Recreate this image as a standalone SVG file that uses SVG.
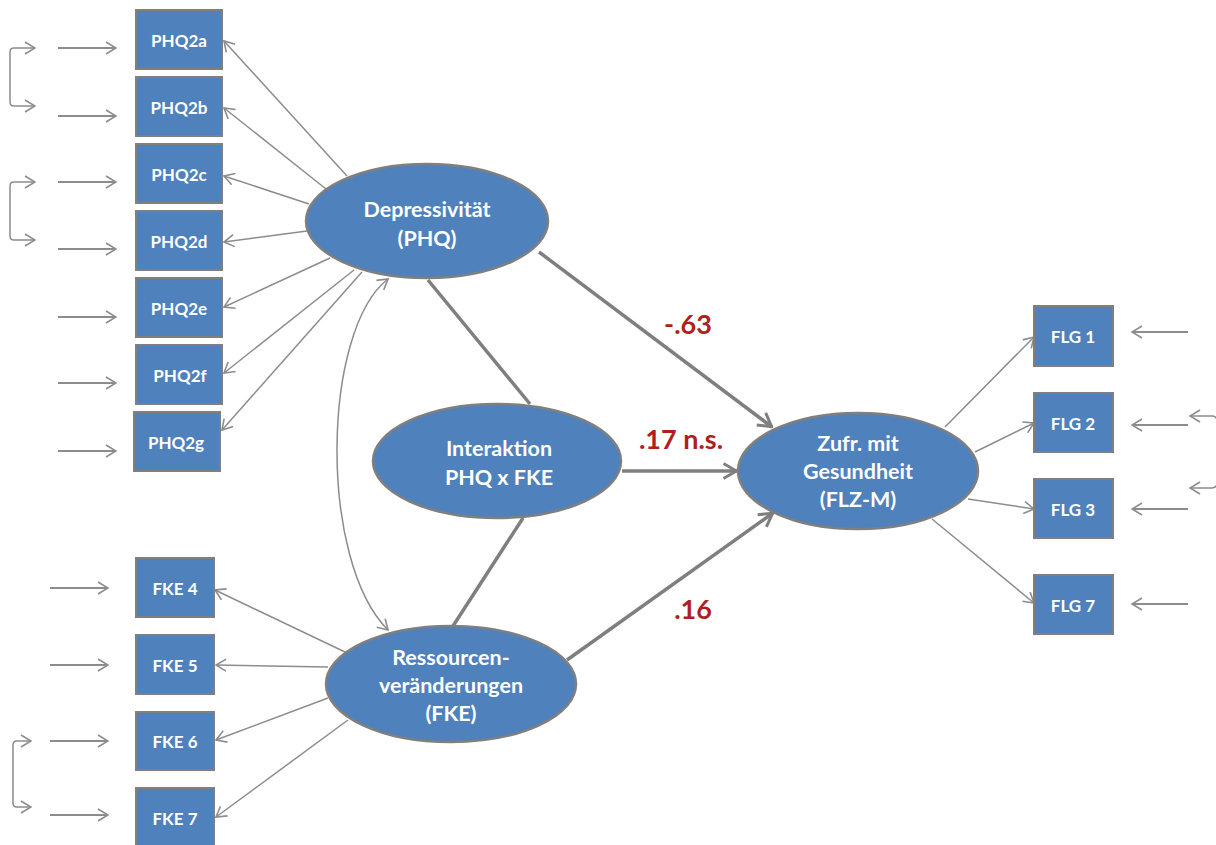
<svg xmlns="http://www.w3.org/2000/svg" width="1216" height="845" viewBox="0 0 1216 845">
  <defs>
    <style>
      .box { fill: #4F81BD; stroke: #7F7F7F; stroke-width: 2; }
      .ell { fill: #4F81BD; stroke: #7F7F7F; stroke-width: 2.5; }
      .lbl { fill: #FFFFFF; font-family: Lato, "Liberation Sans", sans-serif; font-weight: bold; font-size: 17px; text-anchor: middle; dominant-baseline: central; }
      .big { font-size: 21.5px; }
      .coef { fill: #B01F1F; font-family: Lato, "Liberation Sans", sans-serif; font-weight: bold; font-size: 27px; text-anchor: middle; dominant-baseline: central; }
      .thick { fill: none; stroke: #7F7F7F; stroke-width: 3.5; }
      .err { fill: none; stroke: #8C8C8C; stroke-width: 1.8; marker-end: url(#ah); }
      .load { fill: none; stroke: #8C8C8C; stroke-width: 1.5; marker-end: url(#ah); }
      .cov { fill: none; stroke: #8C8C8C; stroke-width: 1.5; marker-start: url(#ah); marker-end: url(#ah); }
      .path { fill: none; stroke: #7F7F7F; stroke-width: 3.5; marker-end: url(#ahb); }
    </style>
    <marker id="ah" viewBox="0 0 12 14" refX="11" refY="7" markerWidth="12" markerHeight="14" markerUnits="userSpaceOnUse" orient="auto-start-reverse">
      <path d="M1,1 L11,7 L1,13" fill="none" stroke="#8C8C8C" stroke-width="1.6"/>
    </marker>
    <marker id="ahb" viewBox="0 0 16 18" refX="15" refY="9" markerWidth="16" markerHeight="18" markerUnits="userSpaceOnUse" orient="auto">
      <path d="M1.5,1.5 L14.5,9 L1.5,16.5" fill="none" stroke="#7F7F7F" stroke-width="3"/>
    </marker>
  </defs>

  <rect width="1216" height="845" fill="#FFFFFF"/>

  <!-- connectors -->
  <g id="connectors">
    <!-- error terms, PHQ indicators -->
    <line class="err" x1="58" y1="48" x2="116" y2="48"/>
    <line class="err" x1="58" y1="116" x2="116" y2="116"/>
    <line class="err" x1="58" y1="182" x2="116" y2="182"/>
    <line class="err" x1="58" y1="249" x2="116" y2="249"/>
    <line class="err" x1="58" y1="317" x2="116" y2="317"/>
    <line class="err" x1="58" y1="383" x2="116" y2="383"/>
    <line class="err" x1="58" y1="451" x2="116" y2="451"/>
    <path class="cov" d="M35,48 H14 Q10,48 10,52 V102 Q10,106 14,106 H35"/>
    <path class="cov" d="M35,182 H14 Q10,182 10,186 V236 Q10,240 14,240 H35"/>

    <!-- error terms, FKE indicators -->
    <line class="err" x1="50" y1="588" x2="108" y2="588"/>
    <line class="err" x1="50" y1="665" x2="108" y2="665"/>
    <line class="err" x1="50" y1="741" x2="108" y2="741"/>
    <line class="err" x1="50" y1="815" x2="108" y2="815"/>
    <path class="cov" d="M31,741 H17 Q13,741 13,745 V803 Q13,807 17,807 H31"/>

    <!-- error terms, FLG indicators -->
    <line class="err" x1="1188" y1="332" x2="1132" y2="332"/>
    <line class="err" x1="1188" y1="425" x2="1132" y2="425"/>
    <line class="err" x1="1188" y1="509" x2="1132" y2="509"/>
    <line class="err" x1="1188" y1="604" x2="1132" y2="604"/>
    <path class="cov" d="M1190,416 H1212 Q1217,416 1217,421 V483 Q1217,488 1212,488 H1190"/>

    <!-- loadings Depressivität -->
    <line class="load" x1="347" y1="176" x2="224" y2="41"/>
    <line class="load" x1="326" y1="189" x2="224" y2="108"/>
    <line class="load" x1="309" y1="204" x2="224" y2="176"/>
    <line class="load" x1="307" y1="231" x2="224" y2="242"/>
    <line class="load" x1="330" y1="258" x2="224" y2="307"/>
    <line class="load" x1="354" y1="270" x2="224" y2="373"/>
    <line class="load" x1="362" y1="272" x2="222" y2="430"/>

    <!-- loadings Ressourcenveränderungen -->
    <line class="load" x1="345" y1="652" x2="215" y2="590"/>
    <line class="load" x1="328" y1="667" x2="216" y2="665"/>
    <line class="load" x1="328" y1="698" x2="216" y2="740"/>
    <line class="load" x1="348" y1="720" x2="216" y2="817"/>

    <!-- loadings Zufriedenheit mit Gesundheit -->
    <line class="load" x1="945" y1="427" x2="1034" y2="337"/>
    <line class="load" x1="975" y1="452" x2="1034" y2="423"/>
    <line class="load" x1="968" y1="499" x2="1034" y2="509"/>
    <line class="load" x1="932" y1="519" x2="1034" y2="603"/>

    <!-- covariance Depressivität / Ressourcen -->
    <path class="cov" d="M388,279 C322,330 318,560 388,630"/>

    <!-- interaction term links -->
    <line class="thick" x1="428" y1="280" x2="530" y2="404"/>
    <line class="thick" x1="523" y1="518" x2="453" y2="626"/>

    <!-- structural paths -->
    <line class="path" x1="539" y1="252" x2="772" y2="427"/>
    <line class="path" x1="622" y1="471" x2="737" y2="471"/>
    <line class="path" x1="567" y1="660" x2="773" y2="513"/>
  </g>

  <!-- path coefficients -->
  <g id="coefficients">
    <text class="coef" x="688" y="323">-.63</text>
    <text class="coef" x="681" y="438">.17 n.s.</text>
    <text class="coef" x="693" y="608">.16</text>
  </g>

  <!-- PHQ indicators -->
  <g id="PHQ2a"><rect class="box" x="136" y="10" width="86" height="59"/><text class="lbl" x="179" y="40">PHQ2a</text></g>
  <g id="PHQ2b"><rect class="box" x="136" y="77" width="86" height="59"/><text class="lbl" x="179" y="107">PHQ2b</text></g>
  <g id="PHQ2c"><rect class="box" x="136" y="144" width="86" height="59"/><text class="lbl" x="179" y="174">PHQ2c</text></g>
  <g id="PHQ2d"><rect class="box" x="136" y="211" width="86" height="59"/><text class="lbl" x="179" y="241">PHQ2d</text></g>
  <g id="PHQ2e"><rect class="box" x="136" y="278" width="86" height="59"/><text class="lbl" x="179" y="308">PHQ2e</text></g>
  <g id="PHQ2f"><rect class="box" x="136" y="345" width="86" height="59"/><text class="lbl" x="180" y="375">PHQ2f</text></g>
  <g id="PHQ2g"><rect class="box" x="134" y="412" width="86" height="59"/><text class="lbl" x="176" y="442">PHQ2g</text></g>

  <!-- FKE indicators -->
  <g id="FKE4"><rect class="box" x="136" y="558" width="78" height="59"/><text class="lbl" x="175" y="588">FKE 4</text></g>
  <g id="FKE5"><rect class="box" x="136" y="635" width="78" height="59"/><text class="lbl" x="175" y="665">FKE 5</text></g>
  <g id="FKE6"><rect class="box" x="136" y="712" width="78" height="58"/><text class="lbl" x="175" y="741">FKE 6</text></g>
  <g id="FKE7"><rect class="box" x="136" y="788" width="78" height="60"/><text class="lbl" x="175" y="818">FKE 7</text></g>

  <!-- FLG indicators -->
  <g id="FLG1"><rect class="box" x="1034" y="306" width="79" height="60"/><text class="lbl" x="1073" y="336">FLG 1</text></g>
  <g id="FLG2"><rect class="box" x="1034" y="393" width="79" height="59"/><text class="lbl" x="1073" y="423">FLG 2</text></g>
  <g id="FLG3"><rect class="box" x="1034" y="479" width="79" height="59"/><text class="lbl" x="1073" y="509">FLG 3</text></g>
  <g id="FLG7"><rect class="box" x="1034" y="575" width="79" height="59"/><text class="lbl" x="1073" y="605">FLG 7</text></g>

  <!-- latent variables -->
  <g id="PHQ">
    <ellipse class="ell" cx="427" cy="221" rx="121" ry="57"/>
    <text class="lbl big" x="427" y="209">Depressivität</text>
    <text class="lbl big" x="427" y="238">(PHQ)</text>
  </g>
  <g id="Interaktion">
    <ellipse class="ell" cx="497" cy="461" rx="124" ry="57"/>
    <text class="lbl big" x="499" y="448">Interaktion</text>
    <text class="lbl big" x="499" y="477">PHQ x FKE</text>
  </g>
  <g id="FKE">
    <ellipse class="ell" cx="451" cy="684" rx="125" ry="58"/>
    <text class="lbl big" x="451" y="657">Ressourcen-</text>
    <text class="lbl big" x="451" y="685">veränderungen</text>
    <text class="lbl big" x="451" y="713">(FKE)</text>
  </g>
  <g id="FLZM">
    <ellipse class="ell" cx="858" cy="471" rx="120" ry="58"/>
    <text class="lbl big" x="858" y="443">Zufr. mit</text>
    <text class="lbl big" x="858" y="471">Gesundheit</text>
    <text class="lbl big" x="858" y="499">(FLZ-M)</text>
  </g>
</svg>
